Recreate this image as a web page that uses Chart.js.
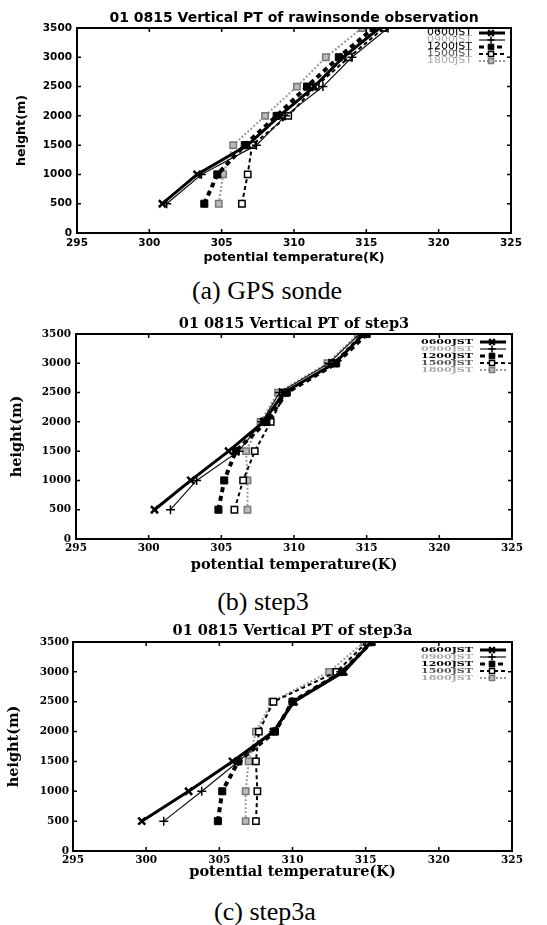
<!DOCTYPE html>
<html><head><meta charset="utf-8">
<script src="https://cdn.jsdelivr.net/npm/chart.js@4.4.0/dist/chart.umd.min.js"></script>
<style>
html,body{margin:0;padding:0;background:#fff;}
body{width:547px;height:925px;position:relative;overflow:hidden;}
canvas{position:absolute;left:0;}
.cap{position:absolute;font-family:"Liberation Serif","Times New Roman",serif;font-size:26px;color:#000;white-space:nowrap;transform:translate(-50%,-50%);line-height:1;}
</style></head><body>
<canvas id="ca" width="547" height="270" style="top:0px"></canvas>
<div class="cap" style="left:267px;top:291px">(a) GPS sonde</div>
<canvas id="cb" width="547" height="280" style="top:300px"></canvas>
<div class="cap" style="left:263px;top:602px">(b) step3</div>
<canvas id="cc" width="547" height="280" style="top:610px"></canvas>
<div class="cap" style="left:265px;top:912px">(c) step3a</div>
<script>
// ---------- data ----------
const heights = [500, 1000, 1500, 2000, 2500, 3000, 3500];
const seriesNames = ['0600JST', '0900JST', '1200JST', '1500JST', '1800JST'];
const xTicks = [295, 300, 305, 310, 315, 320, 325];
const yTicks = [0, 500, 1000, 1500, 2000, 2500, 3000, 3500];

// (a) GPS sonde (rawinsonde observation)
const sonde0600 = [300.9, 303.3, 306.8, 309.0, 311.4, 313.4, 315.9];
const sonde0900 = [301.2, 303.6, 307.4, 309.4, 312.0, 314.0, 316.5];
const sonde1200 = [303.8, 304.7, 306.6, 308.8, 310.9, 313.1, 315.5];
const sonde1500 = [306.4, 306.8, 307.1, 309.6, 311.5, 313.8, 316.2];
const sonde1800 = [304.8, 305.1, 305.8, 308.0, 310.2, 312.2, 314.7];

// (b) step3
const step3_0600 = [300.4, 302.9, 305.5, 307.9, 309.3, 312.8, 314.8];
const step3_0900 = [301.5, 303.3, 306.2, 307.8, 309.0, 312.4, 314.5];
const step3_1200 = [304.8, 305.2, 306.0, 308.1, 309.5, 312.9, 315.0];
const step3_1500 = [305.9, 306.5, 307.3, 308.4, 309.4, 312.7, 314.7];
const step3_1800 = [306.8, 306.8, 306.7, 307.7, 308.9, 312.3, 314.4];

// (c) step3a
const step3a_0600 = [299.7, 302.9, 305.9, 308.7, 310.1, 313.5, 315.4];
const step3a_0900 = [301.2, 303.8, 306.3, 308.7, 310.0, 313.3, 315.4];
const step3a_1200 = [304.9, 305.2, 306.3, 308.8, 310.0, 313.4, 315.4];
const step3a_1500 = [307.5, 307.6, 307.5, 307.7, 308.7, 313.0, 315.1];
const step3a_1800 = [306.8, 306.8, 307.0, 307.5, 308.6, 312.5, 314.9];

// ---------- styles ----------
const seriesStyles = [
  {borderColor:'#000', borderWidth:3, borderDash:[], pointStyle:'crossRot', pointRadius:5, pointBorderWidth:2.5, pointBackgroundColor:'#000', pointBorderColor:'#000', legendColor:'#000'},
  {borderColor:'#111', borderWidth:1.2, borderDash:[], pointStyle:'cross', pointRadius:4.5, pointBorderWidth:1.5, pointBackgroundColor:'#000', pointBorderColor:'#000', legendColor:'#aaa'},
  {borderColor:'#000', borderWidth:4, borderDash:[5,4], pointStyle:'rect', pointRadius:5, pointBorderWidth:1, pointBackgroundColor:'#000', pointBorderColor:'#000', legendColor:'#000'},
  {borderColor:'#000', borderWidth:2, borderDash:[4,3], pointStyle:'rect', pointRadius:4.5, pointBorderWidth:1.5, pointBackgroundColor:'#fff', pointBorderColor:'#000', legendColor:'#555'},
  {borderColor:'#999', borderWidth:2, borderDash:[2,2], pointStyle:'rect', pointRadius:4.5, pointBorderWidth:1.5, pointBackgroundColor:'#bbb', pointBorderColor:'#777', legendColor:'#aaa'}
];

// ---------- plugin: gnuplot-like frame, inward ticks, legend ----------
const gnuFrame = {
  id: 'gnuFrame',
  afterDatasetsDraw(chart, args, opts) {
    const {ctx, chartArea: a, scales: {x, y}} = chart;
    ctx.save();
    ctx.setLineDash([]);
    ctx.strokeStyle = '#000';
    ctx.lineWidth = 1.5;
    ctx.beginPath();
    x.ticks.forEach(t => {
      const px = x.getPixelForValue(t.value);
      ctx.moveTo(px, a.bottom); ctx.lineTo(px, a.bottom - 4);
      ctx.moveTo(px, a.top); ctx.lineTo(px, a.top + 4);
    });
    y.ticks.forEach(t => {
      const py = y.getPixelForValue(t.value);
      ctx.moveTo(a.left, py); ctx.lineTo(a.left + 4, py);
      ctx.moveTo(a.right, py); ctx.lineTo(a.right - 4, py);
    });
    ctx.stroke();
    ctx.lineWidth = 2;
    ctx.strokeRect(a.left, a.top, a.width, a.height);

    // legend (text vertically compressed like the gnuplot key)
    const xText = a.right - opts.textRight;
    const x1 = a.right - 32, x2 = a.right - 6, xm = a.right - 20;
    chart.data.datasets.forEach((ds, i) => {
      const yy = a.top + opts.top + i * opts.spacing;
      ctx.save();
      ctx.translate(xText, yy);
      ctx.scale(1, 0.72);
      ctx.font = opts.font;
      ctx.textAlign = 'right';
      ctx.textBaseline = 'middle';
      ctx.fillStyle = ds.legendColor;
      ctx.fillText(ds.label, 0, 0);
      ctx.restore();
      ctx.save();
      ctx.strokeStyle = ds.borderColor;
      ctx.lineWidth = Math.min(ds.borderWidth, 3);
      ctx.setLineDash(ds.borderDash || []);
      ctx.beginPath(); ctx.moveTo(x1, yy); ctx.lineTo(x2, yy); ctx.stroke();
      ctx.setLineDash([]);
      ctx.fillStyle = ds.pointBackgroundColor;
      ctx.strokeStyle = ds.pointBorderColor;
      ctx.lineWidth = ds.pointBorderWidth;
      Chart.helpers.drawPoint(ctx, {pointStyle: ds.pointStyle, rotation: 0, radius: ds.pointRadius * 0.8, borderWidth: ds.pointBorderWidth}, xm, yy);
      ctx.restore();
    });
    ctx.restore();
  }
};

function makeChart(id, cfg) {
  const datasets = seriesNames.map((name, i) => Object.assign({
    label: name,
    data: heights.map((h, j) => ({x: cfg.series[i][j], y: h})),
    fill: false, tension: 0
  }, seriesStyles[i]));
  const tickFont = {family: cfg.family, size: 10.5, weight: 'bold'};
  const axisFont = {family: cfg.family, size: cfg.axisSize, weight: 'bold'};
  return new Chart(document.getElementById(id), {
    type: 'line',
    data: {datasets},
    plugins: [gnuFrame],
    options: {
      responsive: false, animation: false, devicePixelRatio: 1,
      layout: {padding: {left: 0, right: cfg.padRight, top: 0, bottom: 0}},
      plugins: {
        legend: {display: false},
        tooltip: {enabled: false},
        title: {display: true, text: cfg.title, fullSize: false, color: '#000',
          font: {family: cfg.family, size: cfg.titleSize, weight: 'bold', lineHeight: 1.2},
          padding: {top: cfg.titlePadTop, bottom: cfg.titlePadBottom}},
        gnuFrame: {textRight: 39, top: cfg.legTop, spacing: 7, font: cfg.legFont}
      },
      scales: {
        x: {
          type: 'linear', min: 295, max: 325,
          afterBuildTicks: s => { s.ticks = xTicks.map(v => ({value: v})); },
          afterFit: s => { s.height = cfg.xHeight; },
          grid: {display: false, drawTicks: false}, border: {display: false},
          ticks: {color: '#000', font: tickFont, padding: cfg.xTickPad, maxRotation: 0, autoSkip: false, callback: v => String(v)},
          title: {display: true, text: 'potential temperature(K)', color: '#000', font: axisFont, padding: {top: 0, bottom: cfg.xTitlePad}}
        },
        y: {
          type: 'linear', min: 0, max: 3500,
          afterBuildTicks: s => { s.ticks = yTicks.map(v => ({value: v})); },
          afterFit: s => { s.width = cfg.yWidth; },
          grid: {display: false, drawTicks: false}, border: {display: false},
          ticks: {color: '#000', font: tickFont, padding: cfg.yTickPad, autoSkip: false, callback: v => String(v)},
          title: {display: true, text: 'height(m)', color: '#000', font: axisFont, padding: {top: cfg.yTitlePad, bottom: 0}}
        }
      }
    }
  });
}

makeChart('ca', {
  title: '01 0815 Vertical PT of rawinsonde observation',
  family: '"DejaVu Sans", sans-serif', titleSize: 14, axisSize: 12.7,
  series: [sonde0600, sonde0900, sonde1200, sonde1500, sonde1800],
  padRight: 36, titlePadTop: 9.6, titlePadBottom: 1.6,
  xHeight: 37, xTickPad: 4, xTitlePad: 4.5,
  yWidth: 77, yTickPad: 5, yTitlePad: 14,
  legTop: 5, legFont: '11px "DejaVu Sans", sans-serif'
});
makeChart('cb', {
  title: '01 0815 Vertical PT of step3',
  family: '"DejaVu Serif", serif', titleSize: 14.5, axisSize: 14.5,
  series: [step3_0600, step3_0900, step3_1200, step3_1500, step3_1800],
  padRight: 35, titlePadTop: 15.3, titlePadBottom: 1.3,
  xHeight: 41, xTickPad: 3, xTitlePad: 6.3,
  yWidth: 76, yTickPad: 5, yTitlePad: 9,
  legTop: 8, legFont: 'bold 11px "DejaVu Serif", serif'
});
makeChart('cc', {
  title: '01 0815 Vertical PT of step3a',
  family: '"DejaVu Serif", serif', titleSize: 14.5, axisSize: 14.5,
  series: [step3a_0600, step3a_0900, step3a_1200, step3a_1500, step3a_1800],
  padRight: 35, titlePadTop: 12.3, titlePadBottom: 2.3,
  xHeight: 39, xTickPad: 3, xTitlePad: 9.3,
  yWidth: 73, yTickPad: 4, yTitlePad: 6,
  legTop: 8, legFont: 'bold 11px "DejaVu Serif", serif'
});
</script>
</body></html>
